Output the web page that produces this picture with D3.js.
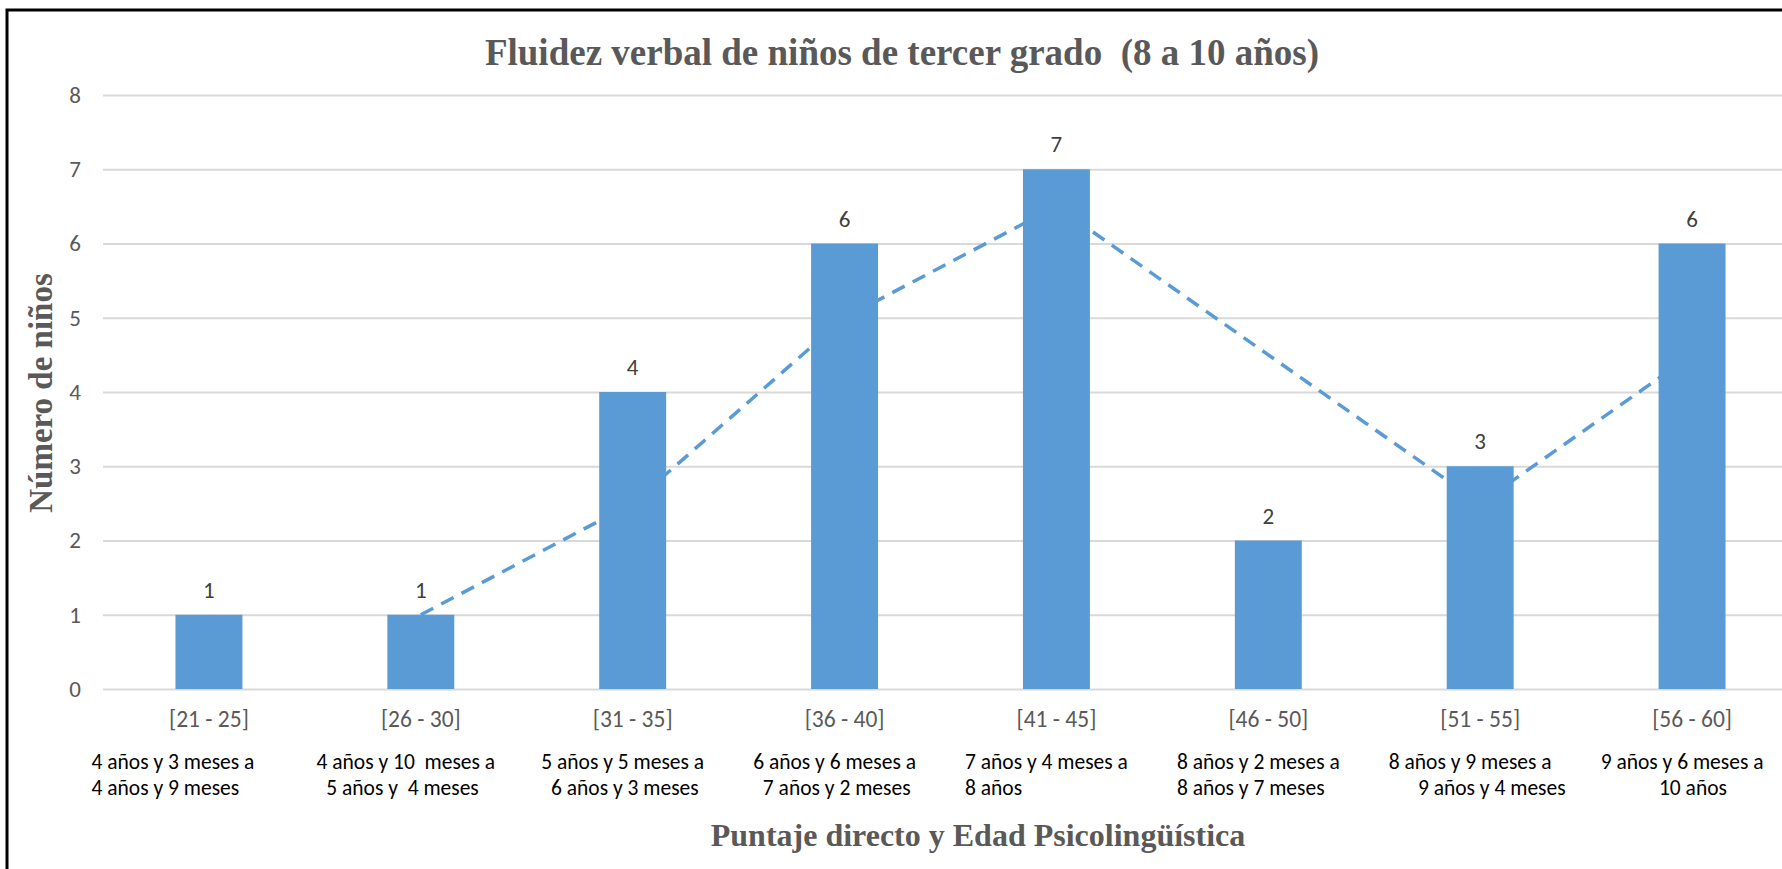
<!DOCTYPE html>
<html>
<head>
<meta charset="utf-8">
<script src="https://cdn.jsdelivr.net/npm/d3@7"></script>
<style>
  html, body { margin: 0; padding: 0; background: #ffffff; }
  svg { display: block; }
</style>
</head>
<body>
<svg id="chart" width="1782" height="869"></svg>
<script>
// ---------- data ----------
const categories = ["[21 - 25]", "[26 - 30]", "[31 - 35]", "[36 - 40]", "[41 - 45]", "[46 - 50]", "[51 - 55]", "[56 - 60]"];
const ageLine1 = ["4 años y 3 meses a", "4 años y 10  meses a", "5 años y 5 meses a", "6 años y 6 meses a", "7 años y 4 meses a", "8 años y 2 meses a", "8 años y 9 meses a", "9 años y 6 meses a"];
const ageLine2 = ["4 años y 9 meses", "  5 años y  4 meses", "  6 años y 3 meses", "  7 años y 2 meses", "8 años", "8 años y 7 meses", "      9 años y 4 meses", "            10 años"];
const values = [1, 1, 4, 6, 7, 2, 3, 6];
// 2-period moving average trendline
const trendValues = [null, 1, 2.5, 5, 6.5, 4.5, 2.5, 4.5];
const yTicks = [0, 1, 2, 3, 4, 5, 6, 7, 8];
const titleText = "Fluidez verbal de niños de tercer grado  (8 a 10 años)";
const yTitleText = "Número de niños";
const xTitleText = "Puntaje directo y Edad Psicolingüística";

// ---------- layout ----------
const W = 1782, H = 869;
const plotLeft = 103, plotRight = 1798, plotTop = 95, plotBottom = 689;
const barColor = "#5B9BD5";
const sansFont = "Carlito, Calibri, Lato, 'Noto Sans', sans-serif";
const serifFont = "'Liberation Serif', 'Times New Roman', serif";
const ageNudge = [-26, -5, 0, 0, 0, 0, 0, 0];

const svg = d3.select("#chart");
svg.append("rect").attr("width", W).attr("height", H).attr("fill", "#ffffff");

const x = d3.scaleBand().domain(categories).range([plotLeft, plotRight]).paddingInner(0.684).paddingOuter(0.342);
const y = d3.scaleLinear().domain([0, 8]).range([plotBottom, plotTop]);

// gridlines + y tick labels
const yAxis = d3.axisLeft(y).tickValues(yTicks).tickSize(-(plotRight - plotLeft)).tickPadding(22).tickFormat(d3.format("d"));
const gy = svg.append("g").attr("transform", `translate(${plotLeft},0)`).call(yAxis);
gy.select(".domain").remove();
gy.selectAll(".tick line").attr("stroke", "#D9D9D9").attr("stroke-width", 2);
gy.selectAll(".tick text").attr("fill", "#595959").attr("font-family", sansFont).attr("font-size", 23);

// trendline (behind bars)
const line = d3.line()
  .defined(d => d != null)
  .x((d, i) => x(categories[i]) + x.bandwidth() / 2)
  .y(d => y(d));
svg.append("path")
  .datum(trendValues)
  .attr("d", line)
  .attr("fill", "none")
  .attr("stroke", barColor)
  .attr("stroke-width", 3.5)
  .attr("stroke-dasharray", "14,9");

// bars
svg.append("g").selectAll("rect").data(values).join("rect")
  .attr("x", (d, i) => x(categories[i]))
  .attr("y", d => y(d))
  .attr("width", x.bandwidth())
  .attr("height", d => y(0) - y(d))
  .attr("fill", barColor);

// data labels
svg.append("g").selectAll("text").data(values).join("text")
  .attr("x", (d, i) => x(categories[i]) + x.bandwidth() / 2)
  .attr("y", d => y(d) - 25)
  .attr("text-anchor", "middle")
  .attr("dominant-baseline", "central")
  .attr("fill", "#404040")
  .attr("font-family", sansFont)
  .attr("font-size", 23)
  .text(d => d);

// category axis
const xAxis = d3.axisBottom(x).tickSize(0).tickPadding(21);
const gx = svg.append("g").attr("transform", `translate(0,${plotBottom})`).call(xAxis);
gx.select(".domain").remove();
gx.selectAll(".tick text").attr("fill", "#595959").attr("font-family", sansFont).attr("font-size", 23.5);

// age labels (two lines, left aligned block)
const ageG = svg.append("g");
categories.forEach((c, i) => {
  const cx = x(c) + x.bandwidth() / 2;
  const t1 = ageG.append("text")
    .attr("xml:space", "preserve").style("white-space", "pre")
    .attr("y", 769).attr("fill", "#000000")
    .attr("font-family", sansFont).attr("font-size", 21.5)
    .text(ageLine1[i]);
  const w1 = t1.node().getComputedTextLength();
  const left = cx - w1 / 2 - 10 + ageNudge[i];
  t1.attr("x", left);
  ageG.append("text")
    .attr("xml:space", "preserve").style("white-space", "pre")
    .attr("x", left).attr("y", 795).attr("fill", "#000000")
    .attr("font-family", sansFont).attr("font-size", 21.5)
    .text(ageLine2[i]);
});

// titles
svg.append("text")
  .attr("x", 902).attr("y", 65)
  .attr("text-anchor", "middle")
  .attr("fill", "#595959")
  .attr("font-family", serifFont).attr("font-weight", "bold").attr("font-size", 37)
  .style("white-space", "pre").attr("xml:space", "preserve")
  .text(titleText);

svg.append("text")
  .attr("transform", "translate(52,393) rotate(-90)")
  .attr("text-anchor", "middle")
  .attr("fill", "#595959")
  .attr("font-family", serifFont).attr("font-weight", "bold").attr("font-size", 33)
  .text(yTitleText);

svg.append("text")
  .attr("x", 978).attr("y", 846)
  .attr("text-anchor", "middle")
  .attr("fill", "#595959")
  .attr("font-family", serifFont).attr("font-weight", "bold").attr("font-size", 32)
  .text(xTitleText);

// outer frame
svg.append("rect")
  .attr("x", 7).attr("y", 10).attr("width", 1850).attr("height", 950)
  .attr("fill", "none").attr("stroke", "#000000").attr("stroke-width", 3);
</script>
</body>
</html>
